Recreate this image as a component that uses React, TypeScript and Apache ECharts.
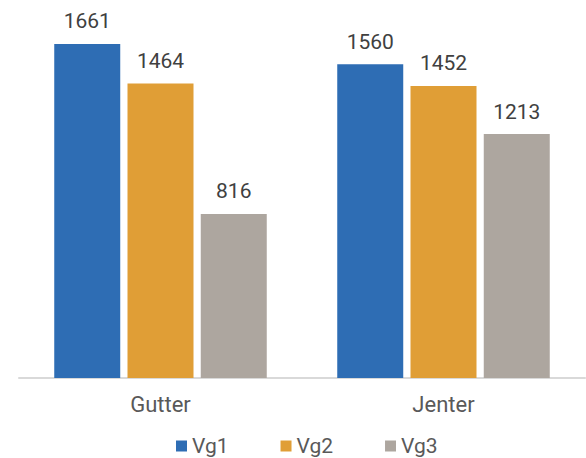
import React, { useEffect, useRef } from "react";
import * as echarts from "echarts";

const categories = ["Gutter", "Jenter"];
const seriesNames = ["Vg1", "Vg2", "Vg3"];
const vg1 = [1661, 1560];
const vg2 = [1464, 1452];
const vg3 = [816, 1213];
const colors = ["#2E6DB4", "#E09E36", "#ADA69F"];

export default function App() {
  const ref = useRef<HTMLDivElement>(null);
  useEffect(() => {
    if (!ref.current) return;
    const chart = echarts.init(ref.current, null, { renderer: "svg" });
    const font = "Roboto";
    const values = [vg1, vg2, vg3];
    chart.setOption({
      animation: false,
      color: colors,
      grid: { left: 19, right: 1, top: 16, bottom: 80, containLabel: false },
      legend: {
        data: seriesNames,
        left: 176,
        top: 435,
        padding: 0,
        itemWidth: 11,
        itemHeight: 11,
        itemGap: 52,
        icon: "rect",
        textStyle: { fontFamily: font, fontSize: 21, color: "#595959", lineHeight: 22 },
      },
      xAxis: {
        type: "category",
        data: categories,
        axisLine: { lineStyle: { color: "#D9D9D9", width: 2 } },
        axisTick: { show: false },
        axisLabel: { fontFamily: font, fontSize: 22, color: "#595959", margin: 15 },
      },
      yAxis: {
        type: "value",
        min: 0,
        max: 1800,
        show: false,
        splitLine: { show: false },
      },
      series: seriesNames.map((name, i) => ({
        name,
        type: "bar",
        data: values[i],
        barWidth: 66,
        barGap: "11%",
        label: {
          show: true,
          position: "top",
          distance: 12,
          fontFamily: font,
          fontSize: 21,
          color: "#404040",
        },
      })),
    });
    return () => chart.dispose();
  }, []);
  return <div ref={ref} style={{ width: 586, height: 458, position: "absolute", left: 0, top: 0 }} />;
}
